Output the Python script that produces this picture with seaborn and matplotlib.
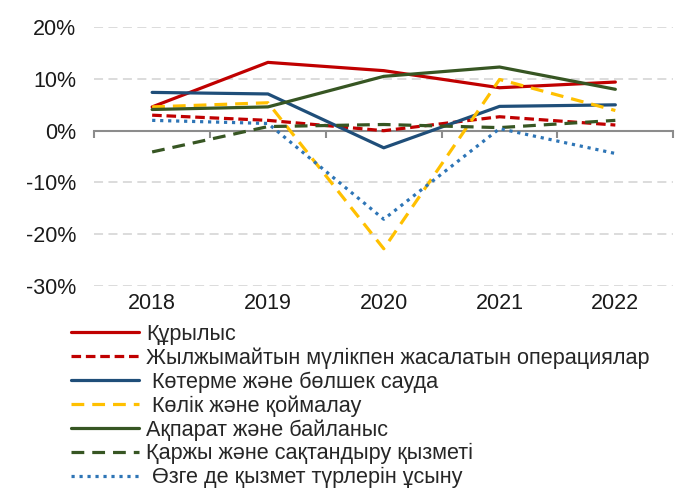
import matplotlib
matplotlib.use("Agg")
import matplotlib.pyplot as plt
from matplotlib.ticker import FuncFormatter, FixedLocator
import seaborn as sns

# data (annual growth, %)
years = ["2018", "2019", "2020", "2021", "2022"]
names = ["Құрылыс",
         "Жылжымайтын мүлікпен жасалатын операциялар",
         " Көтерме және бөлшек сауда",
         " Көлік және қоймалау",
         "Ақпарат және байланыс",
         "Қаржы және сақтандыру қызметі",
         " Өзге де қызмет түрлерін ұсыну"]
construction = [4.6, 13.2, 11.6, 8.3, 9.4]
real_estate = [3.0, 2.0, 0.0, 2.7, 1.1]
trade = [7.4, 7.1, -3.3, 4.7, 5.0]
transport = [4.6, 5.4, -22.8, 9.9, 3.9]
info_comm = [4.1, 4.6, 10.5, 12.3, 8.0]
finance = [-4.1, 0.8, 1.2, 0.6, 2.0]
other = [2.0, 1.4, -17.1, 0.4, -4.4]
series = [construction, real_estate, trade, transport, info_comm, finance, other]

colors = ["#C00000", "#C00000", "#1F4E79", "#FFC000", "#375623", "#375623", "#2E75B6"]
styles = ["-", (0, (3, 1.5)), "-", (0, (4, 2.5)), "-", (0, (4, 2.5)), (0, (1, 1.5))]

sns.set_theme(style="white")
plt.rcParams["font.family"] = ["Liberation Sans", "DejaVu Sans"]

fig = plt.figure(figsize=(6.78, 4.94), dpi=100)
ax = fig.add_axes([0.139, 0.421, 0.854, 0.524])

for vals, name, c, ls in zip(series, names, colors, styles):
    sns.lineplot(x=years, y=vals, ax=ax, color=c, linestyle=ls, linewidth=2.3, label=name, sort=False)
ax.get_legend().remove()

ax.set_xlim(-0.5, 4.5)
ax.set_ylim(-30, 20)
ax.set_yticks([-30, -20, -10, 0, 10, 20])
ax.yaxis.set_major_formatter(FuncFormatter(lambda v, p: f"{v:.0f}%"))
for y in [-30, -20, -10, 10, 20]:
    ax.axhline(y, color="#D9D9D9", linestyle=(0, (5, 3)), linewidth=1.3, zorder=0)

for s in ["top", "right", "left"]:
    ax.spines[s].set_visible(False)
ax.spines["bottom"].set_position(("data", 0))
ax.spines["bottom"].set_color("#8C8C8C")
ax.spines["bottom"].set_linewidth(1.5)
ax.spines["bottom"].set_zorder(1)

ax.xaxis.set_minor_locator(FixedLocator([-0.5, 0.5, 1.5, 2.5, 3.5, 4.5]))
ax.tick_params(axis="x", which="minor", direction="out", length=5, width=1.5, color="#8C8C8C", bottom=True)
ax.tick_params(axis="x", which="major", length=0, pad=117, labelsize=15.5, colors="#1a1a1a")
ax.tick_params(axis="y", length=0, pad=13, labelsize=15.5, colors="#1a1a1a")
ax.set_xlabel("")
ax.set_ylabel("")

h, l = ax.get_legend_handles_labels()
fig.legend(h, l, loc="upper left", bbox_to_anchor=(0.105, 0.345), frameon=False,
           fontsize=15.6, handlelength=3.15, handletextpad=0.3, labelspacing=0.12,
           borderpad=0, borderaxespad=0)

fig.savefig("out.png", dpi=100)
